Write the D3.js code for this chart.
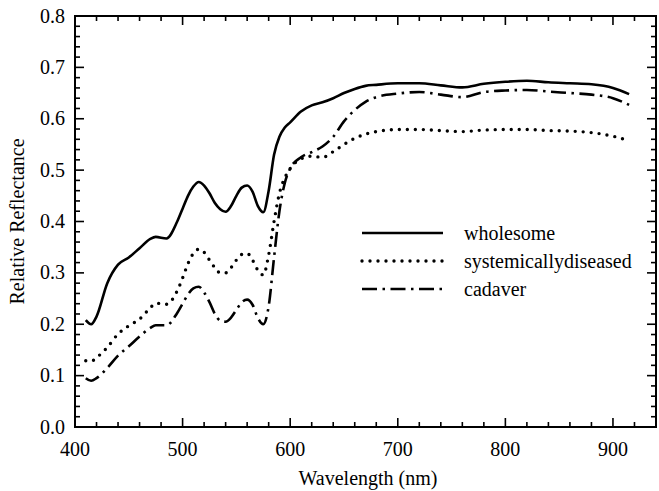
<!DOCTYPE html>
<html>
<head>
<meta charset="utf-8">
<script src="https://cdn.jsdelivr.net/npm/d3@7"></script>
<style>
  body { margin: 0; background: #fff; }
  text { font-family: "Liberation Serif", "Times New Roman", serif; fill: #000; }
</style>
</head>
<body>
<svg id="chart" width="659" height="491"></svg>
<script>
'use strict';

// wavelengths (nm) shared by all three spectra
var wavelengths = [410, 415, 420, 430, 440, 450, 460, 470, 475, 485, 495, 500, 505, 510, 515, 520,
  525, 530, 535, 540, 545, 550, 555, 560, 565, 570, 575, 580, 585, 590, 595, 600, 610, 620, 630,
  640, 650, 660, 670, 680, 700, 720, 740, 760, 780, 800, 820, 840, 860, 880, 900, 915];

var wholesome = [0.208, 0.200, 0.215, 0.280, 0.316, 0.330, 0.348, 0.366, 0.370, 0.367, 0.400, 0.425,
  0.450, 0.468, 0.477, 0.470, 0.455, 0.436, 0.424, 0.419, 0.430, 0.450, 0.466, 0.470, 0.458, 0.430,
  0.418, 0.460, 0.530, 0.565, 0.583, 0.593, 0.614, 0.626, 0.632, 0.640, 0.650, 0.658, 0.664, 0.666,
  0.669, 0.669, 0.665, 0.661, 0.668, 0.672, 0.674, 0.671, 0.669, 0.667, 0.660, 0.648];

var diseased = [0.129, 0.128, 0.135, 0.155, 0.181, 0.197, 0.210, 0.232, 0.241, 0.239, 0.265, 0.290,
  0.318, 0.338, 0.346, 0.340, 0.325, 0.310, 0.300, 0.300, 0.310, 0.325, 0.336, 0.338, 0.325, 0.305,
  0.296, 0.335, 0.400, 0.455, 0.485, 0.503, 0.522, 0.527, 0.525, 0.536, 0.550, 0.562, 0.570, 0.575,
  0.579, 0.579, 0.577, 0.575, 0.578, 0.579, 0.579, 0.577, 0.576, 0.573, 0.566, 0.557];

var cadaver = [0.095, 0.090, 0.095, 0.115, 0.139, 0.157, 0.176, 0.193, 0.198, 0.198, 0.222, 0.240,
  0.258, 0.270, 0.273, 0.262, 0.243, 0.220, 0.207, 0.205, 0.213, 0.228, 0.243, 0.248, 0.238, 0.212,
  0.200, 0.235, 0.330, 0.420, 0.475, 0.503, 0.525, 0.535, 0.546, 0.565, 0.595, 0.617, 0.633, 0.642,
  0.649, 0.652, 0.647, 0.642, 0.652, 0.655, 0.656, 0.653, 0.650, 0.647, 0.640, 0.627];

var seriesNames = ['wholesome', 'systemicallydiseased', 'cadaver'];
var xTicks = [400, 500, 600, 700, 800, 900];
var yTicks = [0, 0.1, 0.2, 0.3, 0.4, 0.5, 0.6, 0.7, 0.8];

var svg = d3.select('#chart');
var m = { left: 75, right: 656, top: 16, bottom: 427 };

var x = d3.scaleLinear().domain([400, 940]).range([m.left, m.right]);
var y = d3.scaleLinear().domain([0, 0.8]).range([m.bottom, m.top]);

// line styles per series
var styles = [
  { dash: null, width: 2.6, cap: 'butt' },
  { dash: '0,8', width: 3.4, cap: 'round' },
  { dash: '15,5.5,2.5,5.5', width: 2.6, cap: 'butt' }
];
var series = [wholesome, diseased, cadaver];

// frame with ticks pointing inward on all four sides
var minorX = d3.range(400, 941, 20), minorY = d3.range(0, 0.801, 0.02);
var g = svg.append('g');

function isMajorX(v) { return Math.abs(v % 100) < 1e-6; }
function isMajorY(v) { return Math.abs(Math.round(v * 10) - v * 10) < 1e-6; }

minorX.forEach(function (v) {
  var len = isMajorX(v) ? 9 : 5;
  g.append('line').attr('x1', x(v)).attr('x2', x(v)).attr('y1', m.bottom).attr('y2', m.bottom - len)
    .attr('stroke', '#000').attr('stroke-width', 1.6);
  g.append('line').attr('x1', x(v)).attr('x2', x(v)).attr('y1', m.top).attr('y2', m.top + len)
    .attr('stroke', '#000').attr('stroke-width', 1.6);
});
minorY.forEach(function (v) {
  var len = isMajorY(v) ? 9 : 5;
  g.append('line').attr('y1', y(v)).attr('y2', y(v)).attr('x1', m.left).attr('x2', m.left + len)
    .attr('stroke', '#000').attr('stroke-width', 1.6);
  g.append('line').attr('y1', y(v)).attr('y2', y(v)).attr('x1', m.right).attr('x2', m.right - len)
    .attr('stroke', '#000').attr('stroke-width', 1.6);
});
g.append('rect').attr('x', m.left).attr('y', m.top)
  .attr('width', m.right - m.left).attr('height', m.bottom - m.top)
  .attr('fill', 'none').attr('stroke', '#000').attr('stroke-width', 2);

// tick labels
g.selectAll('.xl').data(xTicks).enter().append('text')
  .attr('x', function (d) { return x(d); }).attr('y', m.bottom + 29)
  .attr('text-anchor', 'middle').style('font-size', '20px')
  .text(function (d) { return d; });
g.selectAll('.yl').data(yTicks).enter().append('text')
  .attr('x', m.left - 10).attr('y', function (d) { return y(d) + 6.5; })
  .attr('text-anchor', 'end').style('font-size', '20px')
  .text(function (d) { return d.toFixed(1); });

// axis titles
svg.append('text').attr('x', 368).attr('y', 485).attr('text-anchor', 'middle')
  .style('font-size', '20px').text('Wavelength (nm)');
svg.append('text').attr('transform', 'translate(24,' + ((m.top + m.bottom) / 2) + ') rotate(-90)')
  .attr('text-anchor', 'middle').style('font-size', '20px').text('Relative Reflectance');

// spectra
var line = d3.line()
  .x(function (d) { return x(d[0]); })
  .y(function (d) { return y(d[1]); })
  .curve(d3.curveMonotoneX);

series.forEach(function (vals, i) {
  var pts = wavelengths.map(function (w, j) { return [w, vals[j]]; });
  svg.append('path').attr('d', line(pts))
    .attr('fill', 'none').attr('stroke', '#000')
    .attr('stroke-width', styles[i].width)
    .attr('stroke-linecap', styles[i].cap)
    .attr('stroke-dasharray', styles[i].dash);
});

// legend
var legendY = [233, 261, 289];
seriesNames.forEach(function (name, i) {
  svg.append('line').attr('x1', 362).attr('x2', 443)
    .attr('y1', legendY[i]).attr('y2', legendY[i])
    .attr('stroke', '#000').attr('stroke-width', styles[i].width)
    .attr('stroke-linecap', styles[i].cap)
    .attr('stroke-dasharray', styles[i].dash);
  svg.append('text').attr('x', 464).attr('y', legendY[i] + 6.5)
    .style('font-size', '20px').text(name);
});
</script>
</body>
</html>
